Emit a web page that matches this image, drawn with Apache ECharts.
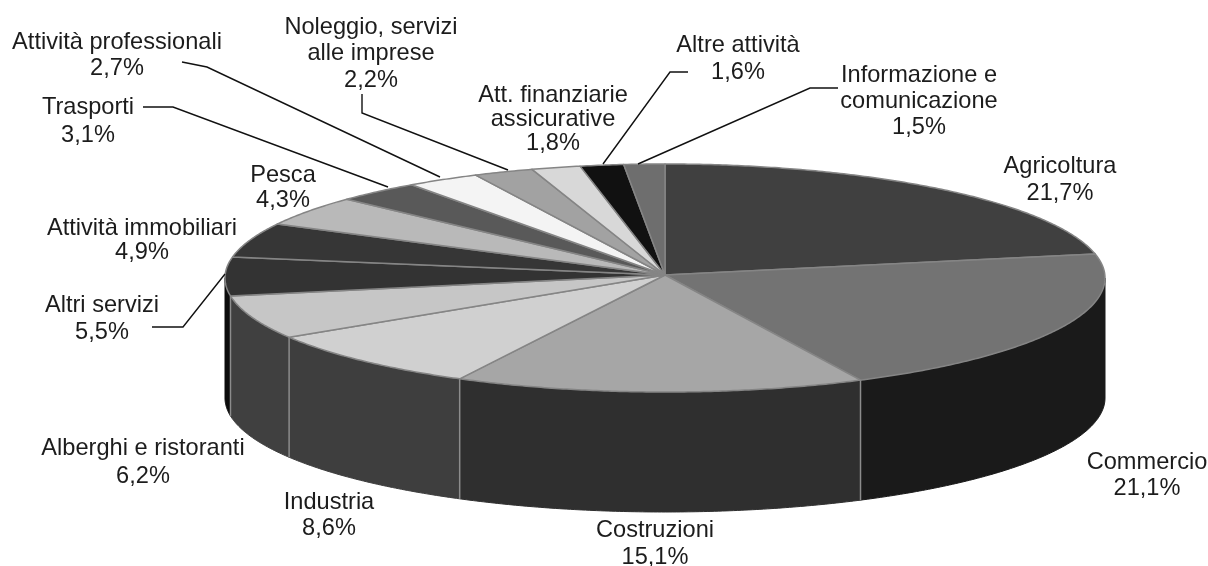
<!DOCTYPE html>
<html><head><meta charset="utf-8">
<style>html,body{margin:0;padding:0;background:#fff}#c{width:1208px;height:566px}</style>
<script src="https://cdn.jsdelivr.net/npm/echarts@6/dist/echarts.min.js"></script>
</head><body><div id="c"></div>
<script>
const categories = ['Agricoltura','Commercio','Costruzioni','Industria','Alberghi e ristoranti','Altri servizi','Attività immobiliari','Pesca','Trasporti','Attività professionali','Noleggio, servizi alle imprese','Att. finanziarie assicurative','Altre attività','Informazione e comunicazione'];
const shares = [21.7,21.1,15.1,8.6,6.2,5.5,4.9,4.3,3.1,2.7,2.2,1.8,1.6,1.5];
const labelLines = [['Agricoltura'],['Commercio'],['Costruzioni'],['Industria'],['Alberghi e ristoranti'],['Altri servizi'],['Attività immobiliari'],['Pesca'],['Trasporti'],['Attività professionali'],['Noleggio, servizi','alle imprese'],['Att. finanziarie','assicurative'],['Altre attività'],['Informazione e','comunicazione']];
const topColors = ['#404040','#737373','#a6a6a6','#d0d0d0','#c6c6c6','#333333','#363636','#b9b9b9','#595959','#f4f4f4','#a2a2a2','#d8d8d8','#111111','#6e6e6e'];
const sideColors = ['#1a1a1a','#1a1a1a','#2f2f2f','#3e3e3e','#404040','#0c0c0c','#0c0c0c','#0c0c0c','#0c0c0c','#0c0c0c','#0c0c0c','#0c0c0c','#0c0c0c','#0c0c0c'];
// layout (px): label centre x, first-line centre y, line pitch; leader polyline
const labelPos = [[1060,166,27],[1147,462,26],[655,530,27],[329,502,26],[143,448,28],[102,305,27],[142,228,24.5],[283,175,25],[88,107,28],[117,42,26],[371,27,26.5],[553,95,24],[738,45,27],[919,75,26]];
const leaders = [null,null,null,null,null,[[152,327],[183,327],[225,274]],null,null,[[143,107],[173,107],[388,187]],[[182,62],[207,67],[440,177]],[[362,94],[362,113],[508,170]],null,[[688,72],[670,72],[603,164]],[[838,88],[810,88],[638,164]]];
const CX=665, CY=278, RX=440, RY=114, APEX=[665,275], DEPTH=120;

const total = shares.reduce((a,b)=>a+b,0);
const starts = []; let acc = 0;
shares.forEach(v=>{starts.push(acc/total*360); acc+=v;});
const rim = deg => { const r=deg*Math.PI/180; return [CX+RX*Math.sin(r), CY-RY*Math.cos(r)]; };
const arc = (a,b) => { const n=Math.max(2,Math.ceil((b-a)*2)), o=[]; for(let i=0;i<=n;i++) o.push(rim(a+(b-a)*i/n)); return o; };
const seriesData = shares.map((v,i)=>({name:categories[i],value:[i,v]}));

const renderSide = (p,api)=>{
  const i=api.value(0), a=starts[i], b=a+api.value(1)/total*360;
  const lo=Math.max(a,90), hi=Math.min(b,270);
  if(hi<=lo) return {type:'group',children:[]};
  const t=arc(lo,hi), d=t.slice().reverse().map(q=>[q[0],q[1]+DEPTH]);
  const kids=[{type:'polygon',shape:{points:t.concat(d)},style:{fill:sideColors[i],stroke:sideColors[i],lineWidth:1},z2:1}];
  if(b<270){const e=rim(b);kids.push({type:'line',shape:{x1:e[0],y1:e[1],x2:e[0],y2:e[1]+DEPTH},style:{stroke:'#8c8c8c',lineWidth:1.5},z2:2});}
  return {type:'group',children:kids};
};
const renderTop = (p,api)=>{
  const i=api.value(0), a=starts[i], b=a+api.value(1)/total*360;
  return {type:'polygon',shape:{points:[APEX].concat(arc(a,b))},style:{fill:topColors[i],stroke:'#858585',lineWidth:1.5,lineJoin:'round'}};
};
const renderLabel = (p,api)=>{
  const i=api.value(0), L=labelPos[i], kids=[];
  const lines=labelLines[i].concat([String(api.value(1).toFixed(1)).replace('.',',')+'%']);
  lines.forEach((s,k)=>kids.push({type:'text',style:{text:s,x:L[0],y:L[1]+k*L[2],align:'center',verticalAlign:'middle',fill:'#1c1c1c',font:'23.6px "Liberation Sans"'}}));
  if(leaders[i]) kids.push({type:'polyline',shape:{points:leaders[i]},style:{fill:null,stroke:'#111',lineWidth:1.4}});
  return {type:'group',children:kids};
};
const chart = echarts.init(document.getElementById('c'),null,{renderer:'canvas'});
chart.setOption({
  animation:false, backgroundColor:'#fff',
  series:[
    {type:'custom',name:'lato',coordinateSystem:'none',silent:true,z:1,data:seriesData,renderItem:renderSide},
    {type:'custom',name:'quote',coordinateSystem:'none',silent:true,z:2,data:seriesData,renderItem:renderTop},
    {type:'custom',name:'etichette',coordinateSystem:'none',silent:true,z:3,data:seriesData,renderItem:renderLabel}
  ]
});
</script></body></html>
